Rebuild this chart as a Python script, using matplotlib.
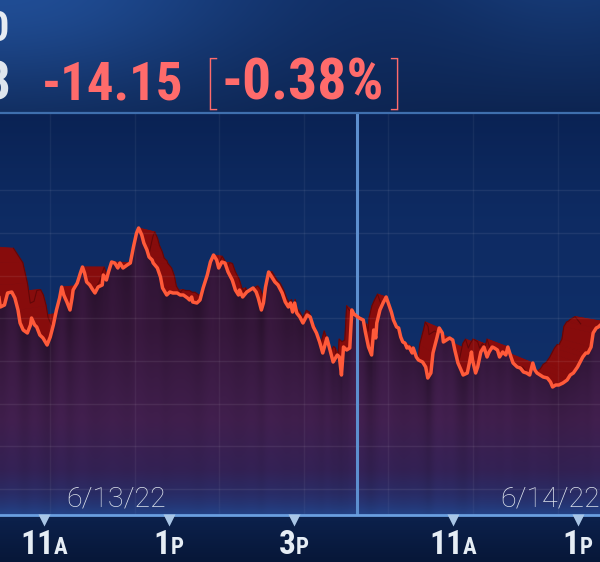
import numpy as np
import matplotlib
matplotlib.use("Agg")
import matplotlib.pyplot as plt
from matplotlib.collections import PolyCollection
from matplotlib.patches import Polygon
from matplotlib.lines import Line2D
from matplotlib.transforms import offset_copy, blended_transform_factory
from matplotlib import font_manager

# ---------------- data (minutes since 6/13 9:30 open; 6/14 open = 393) ----------------
minutes_day1 = [30, 40, 45, 48, 52, 55, 59, 62, 65, 67, 70, 74, 77, 78, 81, 83, 86, 89, 93, 96,
                99, 102, 105, 107, 109, 112, 115, 117, 118, 122, 125, 127, 129, 131, 134, 137, 139,
                142, 146, 147, 150, 152, 155, 158, 161, 163, 166, 170, 173, 176, 179, 181, 184, 186,
                189, 191, 194, 195, 199, 202, 204, 208, 211, 214, 218, 221, 224, 228, 230, 232, 233,
                237, 240, 243, 247, 250, 253, 256, 258, 261, 264, 267, 271, 274, 277, 278, 281, 285,
                288, 291, 294, 296, 299, 301, 303, 306, 309, 312, 315, 319, 322, 325, 327, 329, 331,
                333, 336, 339, 343, 346, 349, 352, 355, 358, 362, 365, 368, 372, 374, 376, 378, 381,
                384, 386, 387, 388]
prices_day1 = [3753.8, 3750.6, 3746.0, 3741.6, 3742.0, 3744.4, 3744.6, 3743.4, 3741.0, 3738.4,
               3737.0, 3736.4, 3738.0, 3739.4, 3738.0, 3737.6, 3736.0, 3735.4, 3734.0, 3735.6,
               3738.0, 3741.0, 3743.4, 3745.6, 3744.0, 3742.6, 3741.0, 3743.4, 3745.0, 3746.4,
               3748.4, 3749.6, 3748.4, 3746.6, 3746.0, 3745.0, 3744.4, 3745.6, 3746.0, 3748.0,
               3747.0, 3748.6, 3750.6, 3750.4, 3749.4, 3750.4, 3749.4, 3750.0, 3750.4, 3753.6,
               3756.4, 3757.4, 3756.0, 3754.4, 3753.0, 3751.6, 3751.0, 3750.4, 3749.4, 3747.6,
               3745.4, 3744.0, 3744.6, 3744.4, 3744.4, 3744.0, 3744.0, 3743.4, 3743.0, 3743.6,
               3742.6, 3742.4, 3743.0, 3745.4, 3748.0, 3750.6, 3752.0, 3751.0, 3749.4, 3750.6,
               3750.4, 3748.6, 3747.0, 3745.0, 3744.0, 3745.0, 3743.6, 3744.6, 3745.0, 3745.4,
               3744.6, 3743.4, 3741.0, 3742.4, 3745.6, 3748.6, 3747.6, 3746.6, 3746.0, 3744.4,
               3742.6, 3741.6, 3742.4, 3740.6, 3742.4, 3740.4, 3739.6, 3738.4, 3740.0, 3739.6,
               3737.6, 3736.4, 3734.6, 3732.4, 3735.4, 3733.0, 3730.6, 3732.0, 3731.6, 3728.0,
               3733.6, 3733.0, 3733.4, 3741.0, 3740.6, 3740.2]
minutes_day2 = [393, 397, 399, 402, 405, 407, 409, 410, 413, 416, 419, 421, 424, 426, 429, 431,
                433, 435, 437, 439, 441, 444, 445, 448, 450, 454, 457, 459, 462, 464, 468, 470,
                473, 474, 477, 480, 483, 485, 488, 491, 493, 497, 499, 501, 502, 505, 507, 510,
                513, 516, 518, 521, 523, 526, 528, 531, 534, 536, 539, 541, 545, 548, 551, 554,
                557, 560, 562, 564, 567, 570, 574, 577, 579, 582, 585, 589, 593, 596, 599, 603,
                605, 608, 611, 613, 616, 618, 621, 623, 625, 630, 636]
prices_day2 = [3739.4, 3739.0, 3736.6, 3733.6, 3732.0, 3737.0, 3735.4, 3738.4, 3741.0, 3742.4,
               3743.6, 3742.4, 3740.6, 3739.0, 3737.6, 3737.4, 3735.6, 3734.6, 3734.4, 3733.4,
               3733.6, 3732.4, 3733.4, 3731.6, 3731.0, 3730.6, 3729.6, 3727.4, 3728.4, 3732.4,
               3735.6, 3737.4, 3736.4, 3734.6, 3735.0, 3735.4, 3735.0, 3733.0, 3730.4, 3729.0,
               3728.0, 3728.4, 3730.4, 3732.6, 3731.0, 3728.4, 3729.6, 3732.6, 3733.6, 3731.6,
               3732.6, 3733.6, 3733.4, 3733.0, 3731.6, 3732.6, 3732.0, 3733.6, 3731.6, 3730.4,
               3729.6, 3729.4, 3728.6, 3728.4, 3728.0, 3730.4, 3729.0, 3728.4, 3728.0, 3727.6,
               3727.4, 3726.6, 3725.6, 3726.0, 3726.0, 3726.4, 3727.0, 3728.0, 3728.4, 3729.6,
               3730.4, 3731.6, 3732.4, 3732.4, 3733.6, 3736.4, 3737.4, 3737.6, 3738.0, 3738.6,
               3737.0]

tick_minutes = [90, 210, 330, 483, 603]
tick_numbers = ["11", "1", "3", "11", "1"]
tick_suffixes = ["A", "P", "P", "A", "P"]
date_labels = ["6/13/22", "6/14/22"]
date_minutes = [159, 576.5]
session_break_minute = 391
net_change = "-14.15"
pct_change = "-0.38%"
index_level = "3735.48"
index_name = "S&P 500"

minutes = np.array(minutes_day1 + minutes_day2, dtype=float)
prices = np.array(prices_day1 + prices_day2, dtype=float)

# ---------------- layout ----------------
W_PX, H_PX = 600, 562
TOP, BOT = 114, 515
XLIM = (47.7, 624.6)
YLIM = (3700.0, 3780.2)


def pick(*names):
    for n in names:
        try:
            font_manager.findfont(font_manager.FontProperties(family=n), fallback_to_default=False)
            return n
        except Exception:
            pass
    return "DejaVu Sans"


COND = pick("Liberation Sans Narrow", "Roboto Condensed", "Roboto")
LIGHT = pick("Roboto", "Lato", "Open Sans")

fig = plt.figure(figsize=(W_PX / 100, H_PX / 100), dpi=100)
fig.patch.set_facecolor("#0a1e48")
renderer = fig.canvas.get_renderer()

# header background
hax = fig.add_axes([0, (H_PX - TOP) / H_PX, 1, TOP / H_PX])
yy, xx = np.mgrid[0:TOP, 0:W_PX].astype(float)
base = np.array([0.055, 0.16, 0.36])
hdr = np.zeros((TOP, W_PX, 3)) + base
blob = np.exp(-((xx / 260) ** 2 + (yy / 110) ** 2))
hdr += blob[..., None] * np.array([0.07, 0.14, 0.22])
band = np.exp(-((xx - 570) / 140) ** 2) * (1 - yy / TOP)
hdr += band[..., None] * np.array([0.03, 0.06, 0.09])
hdr *= (1 - 0.12 * (yy / TOP))[..., None]
hax.imshow(np.clip(hdr, 0, 1), extent=[0, 1, 0, 1], aspect="auto", interpolation="bilinear")
hax.axis("off")

# bottom band
bax = fig.add_axes([0, 0, 1, (H_PX - BOT) / H_PX])
by = np.linspace(0, 1, 50)[:, None, None]
bimg = np.array([0.045, 0.13, 0.30]) * (1 - by) + np.array([0.03, 0.09, 0.22]) * by
bimg = np.repeat(bimg, 2, axis=1)
bax.imshow(bimg, extent=[0, 1, 0, 1], aspect="auto", interpolation="bilinear")
bax.axis("off")

# main chart axes
ax = fig.add_axes([0, (H_PX - BOT) / H_PX, 1, (BOT - TOP) / H_PX])
ax.set_xlim(*XLIM)
ax.set_ylim(*YLIM)
ax.axis("off")

px_per_unit = (BOT - TOP) / (YLIM[1] - YLIM[0])
rows_px = np.arange(TOP, BOT) + 0.5
vrow = YLIM[0] + (BOT - rows_px) / px_per_unit

# navy background gradient
bgR = np.interp(rows_px, [TOP, 220, BOT], [0.040, 0.055, 0.065])
bgG = np.interp(rows_px, [TOP, 220, BOT], [0.135, 0.170, 0.195])
bgB = np.interp(rows_px, [TOP, 220, BOT], [0.330, 0.390, 0.430])
bg = np.stack([bgR, bgG, bgB], axis=-1)[:, None, :].repeat(4, axis=1)
ax.imshow(bg, extent=[XLIM[0], XLIM[1], YLIM[0], YLIM[1]], aspect="auto",
          interpolation="bilinear", zorder=0)

# perspective extrusion of the ribbon (back edge toward a vanishing point)
pts = ax.transData.transform(np.column_stack([minutes, prices]))
vp = ax.transAxes.transform((0.5, (BOT - 268) / (BOT - TOP)))
back = pts + 0.1 * (vp - pts)
back_d = ax.transData.inverted().transform(back)
quads = []
for i in range(len(minutes) - 1):
    quads.append([(minutes[i], prices[i]), (minutes[i + 1], prices[i + 1]),
                  tuple(back_d[i + 1]), tuple(back_d[i])])
ax.add_collection(PolyCollection(quads, facecolors="#870c0c", edgecolors="#870c0c",
                                 linewidths=0.6, zorder=1))
ax.plot(back_d[:, 0], back_d[:, 1], color="#620708", lw=0.8, zorder=1.1)

# purple area fill with soft streaks
cols = np.linspace(XLIM[0], XLIM[1], W_PX)
vc = np.interp(cols, minutes, prices)
k = 31
smooth = np.convolve(np.pad(vc, k // 2, mode="edge"), np.ones(k) / k, mode="valid")
local = np.clip((vc - smooth) / 4.0, -1, 1)
k2 = 7
local = np.convolve(np.pad(local, k2 // 2, mode="edge"), np.ones(k2) / k2, mode="valid")
depth = (vc[None, :] - vrow[:, None]) * px_per_unit
fall = np.exp(-np.clip(depth, 0, None) / 110)
stops = [TOP, 330, 420, 470, BOT]
fR = np.interp(rows_px, stops, [0.20, 0.21, 0.25, 0.20, 0.13])
fG = np.interp(rows_px, stops, [0.085, 0.09, 0.12, 0.13, 0.21])
fB = np.interp(rows_px, stops, [0.22, 0.23, 0.30, 0.33, 0.46])
fill = np.stack([fR, fG, fB], axis=-1)[:, None, :].repeat(W_PX, axis=1)
fill = fill * (1 + 0.18 * (local[None, :] * fall))[..., None]
near = 0.86 + 0.14 * (1 - np.exp(-np.clip(depth, 0, None) / 30))
fill = fill * near[..., None]
im = ax.imshow(np.clip(fill, 0, 1), extent=[XLIM[0], XLIM[1], YLIM[0], YLIM[1]],
               aspect="auto", interpolation="bilinear", zorder=2)
poly = Polygon([[minutes[0], YLIM[0] - 5]]
               + np.column_stack([minutes, prices]).tolist()
               + [[minutes[-1], YLIM[0] - 5]], closed=True, facecolor="none",
               edgecolor="none")
ax.add_patch(poly)
im.set_clip_path(poly)

# grid
for ypx in [190.3, 233, 275.7, 318.3, 361, 403.7, 446.3, 489]:
    gy = YLIM[0] + (BOT - ypx) / px_per_unit
    ax.axhline(gy, color="white", alpha=0.07, lw=1, zorder=2.5)
for xpx in [50, 135, 219, 304, 388, 473, 558]:
    gx = XLIM[0] + xpx / W_PX * (XLIM[1] - XLIM[0])
    ax.axvline(gx, color="white", alpha=0.05, lw=1, zorder=2.5)

# bottom glow
gl = np.linspace(0, 1, 40)[:, None]
glow = np.zeros((40, 2, 4))
glow[..., 0] = 0.16
glow[..., 1] = 0.33
glow[..., 2] = 0.62
glow[..., 3] = (gl ** 2.5) * 0.45
glow_h = 30 / px_per_unit
ax.imshow(glow, extent=[XLIM[0], XLIM[1], YLIM[0], YLIM[0] + glow_h], aspect="auto",
          interpolation="bilinear", zorder=2.6)

# session separator
ax.axvline(session_break_minute, color="#5d8fcf", lw=2.2, zorder=3)

# price line
ax.plot(minutes, prices, color="#ff5a3a", lw=2.5, solid_joinstyle="round", zorder=4)

# axis line + header line
ax.axhline(YLIM[0], color="#6a9fe0", lw=2.0, zorder=5, clip_on=False)
fig.add_artist(Line2D([0, 1], [(H_PX - 113) / H_PX] * 2, color="#3f6fae", lw=1.6))

# tick triangles
trans_xa = blended_transform_factory(ax.transData, ax.transAxes)
ax.plot(tick_minutes, [-4.5 / (BOT - TOP)] * len(tick_minutes), "v", ms=8,
        color="#a9c6e6", mec="none", transform=trans_xa, clip_on=False, zorder=6)

# tick labels (big number + small suffix), centered on tick
label_y = (BOT - 554) / (BOT - TOP)
for tm, num, suf in zip(tick_minutes, tick_numbers, tick_suffixes):
    t1 = ax.text(tm, label_y, num, transform=trans_xa, ha="left", va="baseline",
                 fontsize=24, fontweight="bold", family=COND, color="#e6edf5", clip_on=False)
    t2 = ax.text(tm, label_y, suf, transform=trans_xa, ha="left", va="baseline",
                 fontsize=16.5, fontweight="bold", family=COND, color="#e6edf5", clip_on=False)
    w1 = t1.get_window_extent(renderer).width
    w2 = t2.get_window_extent(renderer).width
    tot = w1 + w2
    t1.set_transform(offset_copy(trans_xa, fig=fig, x=-tot / 2, y=0, units="dots"))
    t2.set_transform(offset_copy(trans_xa, fig=fig, x=-tot / 2 + w1, y=0, units="dots"))

# date labels
date_y = (BOT - 507) / (BOT - TOP)
for dm, lab in zip(date_minutes, date_labels):
    ax.text(dm, date_y, lab, transform=trans_xa, ha="center", va="baseline", fontsize=20.5,
            fontweight="light", family=LIGHT, color="#dde3ec", zorder=7)

# header texts
hb = (H_PX - 100) / H_PX
salmon = "#ff6b6b"


def put(xpx, s, y=hb, **kw):
    t = fig.text(xpx / W_PX, y, s, ha="left", va="baseline", **kw)
    return xpx + t.get_window_extent(renderer).width


x = put(42, net_change, fontsize=38, fontweight="bold", family=COND, color=salmon)
x = put(x + 21, "[", y=hb - 1.5 / H_PX, fontsize=39, fontweight="light", family=LIGHT,
        color=salmon)
x = put(x + 5, pct_change, fontsize=41.5, fontweight="bold", family=COND, color=salmon)
put(x + 7, "]", y=hb - 1.5 / H_PX, fontsize=39, fontweight="light", family=LIGHT,
    color=salmon)

fig.text(11 / W_PX, hb, index_level, ha="right", va="baseline", fontsize=38,
         fontweight="bold", family=COND, color="#dfe6ee")
fig.text(9 / W_PX, (H_PX - 41) / H_PX, index_name, ha="right", va="baseline", fontsize=30,
         fontweight="bold", family=COND, color="#e6ebf2")

fig.savefig("out.png", dpi=100)
